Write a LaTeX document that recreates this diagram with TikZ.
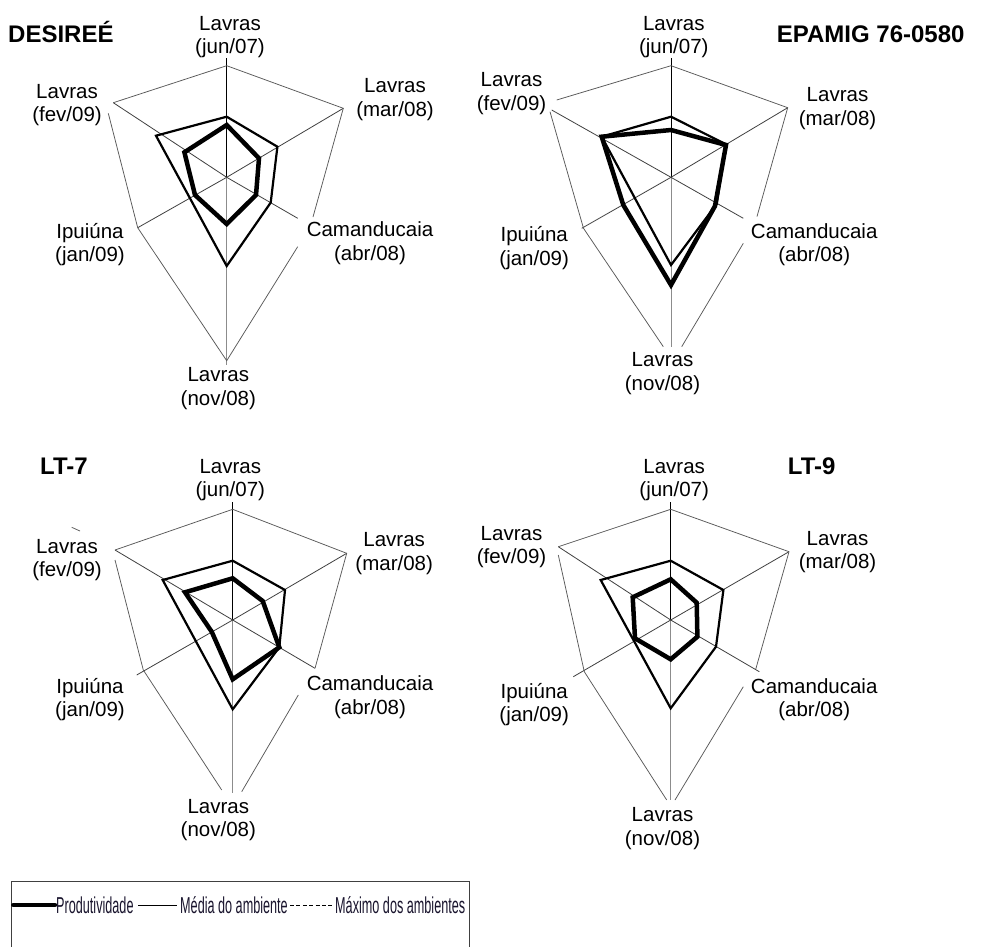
\documentclass[tikz,border=0pt]{standalone}
\usepackage{fontspec}
\usepackage{graphicx}
\setmainfont{Liberation Sans}
\usetikzlibrary{calc}
\definecolor{legtxt}{RGB}{25,20,45}
\newcommand\twol[2]{\begin{tabular}[t]{@{}c@{}}#1\\#2\end{tabular}}
\tikzset{
  spk/.style={draw=black!75, line width=0.8pt},
  spktop/.style={draw=black, line width=0.9pt},
  spkbot/.style={draw=black!45, line width=0.9pt},
  maxl/.style={draw=black!65, line width=0.75pt},
  medl/.style={draw=black, line width=2.2pt, line join=miter},
  prodl/.style={draw=black, line width=4.5pt, line join=miter},
  lab/.style={anchor=base, inner sep=0pt, font=\fontsize{20.5}{23.3}\selectfont},
  ttl/.style={anchor=base west, inner sep=0pt, font=\fontsize{24}{28}\selectfont\bfseries},
  legt/.style={anchor=base west, inner sep=0pt, text=legtxt, font=\fontsize{23}{26}\selectfont},
}
\begin{document}
\begin{tikzpicture}[x=1pt,y=-1pt]
\useasboundingbox (0,0) rectangle (983,946);
\fill[white] (0,0) rectangle (983,946);

% ================= Chart 1: DESIREE =================
\coordinate (c1) at (226.7,177.3);
\draw[spktop] (c1) -- (226.7,58.3);
\draw[spkbot] (c1) -- (226.7,365);
\draw[spk] (c1) -- (343.3,108.3);
\draw[spk] (c1) -- (137.7,227.7);
\draw[spk] (c1) -- (297.7,218.3);
\draw[spk] (c1) -- (113.3,102.7);
\draw[maxl] (226.7,65.7) -- (343.3,108.3) -- (313,217);
\draw[maxl] (297.7,246.7) -- (226.7,360.7) -- (137.7,227.7) -- (108.3,113.3);
\draw[maxl] (113.3,102.7) -- (226.7,65.7);
\draw[medl] (226.7,116.7) -- (277.4,146.7) -- (270.7,202.6) -- (226.7,266) -- (190,198.3) -- (156,135.7) -- cycle;
\draw[prodl] (226.7,125) -- (259,158.3) -- (256,195) -- (226.7,224) -- (195,195) -- (184.4,152.3) -- cycle;
\node[lab] (a1) at (230,30) {\twol{Lavras}{(jun/07)}};
\node[lab] (b1) at (395,92.7) {\twol{Lavras}{(mar/08)}};
\node[lab] (d1) at (370,236.7) {\twol{Camanducaia}{(abr/08)}};
\node[lab] (e1) at (218.3,381.7) {\twol{Lavras}{(nov/08)}};
\node[lab] (f1) at (90,238.3) {\twol{Ipuiúna}{(jan/09)}};
\node[lab] (g1) at (67,98.3) {\twol{Lavras}{(fev/09)}};
\node[ttl] (t1) at (8,42.7) {DESIREÉ};

% ================= Chart 2: EPAMIG =================
\coordinate (c2) at (671,177.3);
\draw[spktop] (c2) -- (671,58.3);
\draw[spkbot] (c2) -- (671,346.7);
\draw[spk] (c2) -- (787.7,107.7);
\draw[spk] (c2) -- (581.7,228.3);
\draw[spk] (c2) -- (743.3,218.3);
\draw[spk] (c2) -- (551.7,110);
\draw[maxl] (671,65.7) -- (787.7,107.7) -- (757,216.5);
\draw[maxl] (743.3,243.3) -- (681.7,346.7);
\draw[maxl] (663.3,346.7) -- (583.5,228.3) -- (550,111.7);
\draw[maxl] (556.7,100) -- (671,65.7);
\draw[medl] (671,116.7) -- (726,144.3) -- (716.7,204) -- (671,265) -- (634.8,198) -- (601.7,136.7) -- cycle;
\draw[prodl] (671,130) -- (726,145) -- (715,206) -- (671,285) -- (623.3,205) -- (601.7,136.7) -- cycle;
\node[lab] (a2) at (673.8,30) {\twol{Lavras}{(jun/07)}};
\node[lab] (b2) at (837.5,101.7) {\twol{Lavras}{(mar/08)}};
\node[lab] (d2) at (814.2,238.3) {\twol{Camanducaia}{(abr/08)}};
\node[lab] (e2) at (662.5,366.7) {\twol{Lavras}{(nov/08)}};
\node[lab] (f2) at (534.2,241.7) {\twol{Ipuiúna}{(jan/09)}};
\node[lab] (g2) at (511.5,86.7) {\twol{Lavras}{(fev/09)}};
\node[ttl] (t2) at (776.7,42.7) {EPAMIG 76-0580};

% ================= Chart 3: LT-7 =================
\coordinate (c3) at (232.7,620);
\draw[spktop] (c3) -- (232.7,501.7);
\draw[spkbot] (c3) -- (232.7,793.3);
\draw[spk] (c3) -- (346.7,553.3);
\draw[spk] (c3) -- (315,668.3);
\draw[spk] (c3) -- (136.7,675);
\draw[spk] (c3) -- (115,550);
\draw[maxl] (232.7,509.3) -- (346.7,553.3) -- (315,668.3);
\draw[maxl] (298.3,695) -- (241.7,791.7);
\draw[maxl] (221.7,790) -- (143.3,670) -- (115,560);
\draw[maxl] (115,550) -- (232.7,509.3);
\draw[maxl] (71.7,527.3) -- (80,531);
\draw[medl] (232.7,560.7) -- (285,590) -- (279.3,647.3) -- (232.7,709.3) -- (195.8,641.1) -- (162.7,580) -- cycle;
\draw[prodl] (232.7,578.3) -- (262.7,601) -- (279.3,647.3) -- (232.7,679.3) -- (211.7,631.7) -- (185,592.3) -- cycle;
\node[lab] (a3) at (230.3,473.3) {\twol{Lavras}{(jun/07)}};
\node[lab] (b3) at (394.2,546.7) {\twol{Lavras}{(mar/08)}};
\node[lab] (d3) at (370,690.7) {\twol{Camanducaia}{(abr/08)}};
\node[lab] (e3) at (218.3,813.3) {\twol{Lavras}{(nov/08)}};
\node[lab] (f3) at (90,693.3) {\twol{Ipuiúna}{(jan/09)}};
\node[lab] (g3) at (67,553.3) {\twol{Lavras}{(fev/09)}};
\node[ttl] (t3) at (40,474.3) {LT-7};

% ================= Chart 4: LT-9 =================
\coordinate (c4) at (670.7,620);
\draw[spktop] (c4) -- (670.7,501.7);
\draw[spkbot] (c4) -- (670.7,800);
\draw[spk] (c4) -- (789,551.7);
\draw[spk] (c4) -- (759.3,671.7);
\draw[spk] (c4) -- (573.3,676.7);
\draw[spk] (c4) -- (558.3,546.7);
\draw[maxl] (670.7,509.3) -- (789,551.7) -- (755.7,669.3);
\draw[maxl] (743.3,686.7) -- (675,800);
\draw[maxl] (666.7,800) -- (584.3,671.7) -- (558.3,555);
\draw[maxl] (558.3,546.7) -- (670.7,509.3);
\draw[medl] (670.7,560.7) -- (723.4,590) -- (716,646.7) -- (670.7,708.3) -- (634,641) -- (600.7,580) -- cycle;
\draw[prodl] (670.7,579.3) -- (696.7,602.7) -- (697.4,636.7) -- (670.7,659.3) -- (635,638.3) -- (632.7,597.3) -- cycle;
\node[lab] (a4) at (674.2,473.3) {\twol{Lavras}{(jun/07)}};
\node[lab] (b4) at (837.5,545) {\twol{Lavras}{(mar/08)}};
\node[lab] (d4) at (814.2,693.3) {\twol{Camanducaia}{(abr/08)}};
\node[lab] (e4) at (662.5,821.7) {\twol{Lavras}{(nov/08)}};
\node[lab] (f4) at (534.2,698.3) {\twol{Ipuiúna}{(jan/09)}};
\node[lab] (g4) at (511.5,540) {\twol{Lavras}{(fev/09)}};
\node[ttl] (t4) at (787.7,474.3) {LT-9};

% ================= Legend =================
\draw[draw=black!75, line width=1pt] (11,970) -- (11,881.7) -- (469.3,881.7) -- (469.3,970);
\coordinate (p0) at (13.3,905);
\coordinate (p1) at (55,905);
\coordinate (m0) at (138.3,905);
\coordinate (m1) at (176.7,905);
\coordinate (x0) at (290,905);
\coordinate (x1) at (333.3,905);
\draw[line width=4.5pt, line cap=round] (p0) -- (p1);
\draw[line width=1pt] (m0) -- (m1);
\draw[line width=1pt, dash pattern=on 4pt off 2.4pt] (x0) -- (x1);
\node[legt] (lp) at (56,913.3) {\scalebox{0.55}[1]{Produtividade}};
\node[legt] (lm) at (180,913.3) {\scalebox{0.55}[1]{Média do ambiente}};
\node[legt] (lx) at (335,913.3) {\scalebox{0.55}[1]{Máximo dos ambientes}};
\end{tikzpicture}
\end{document}
